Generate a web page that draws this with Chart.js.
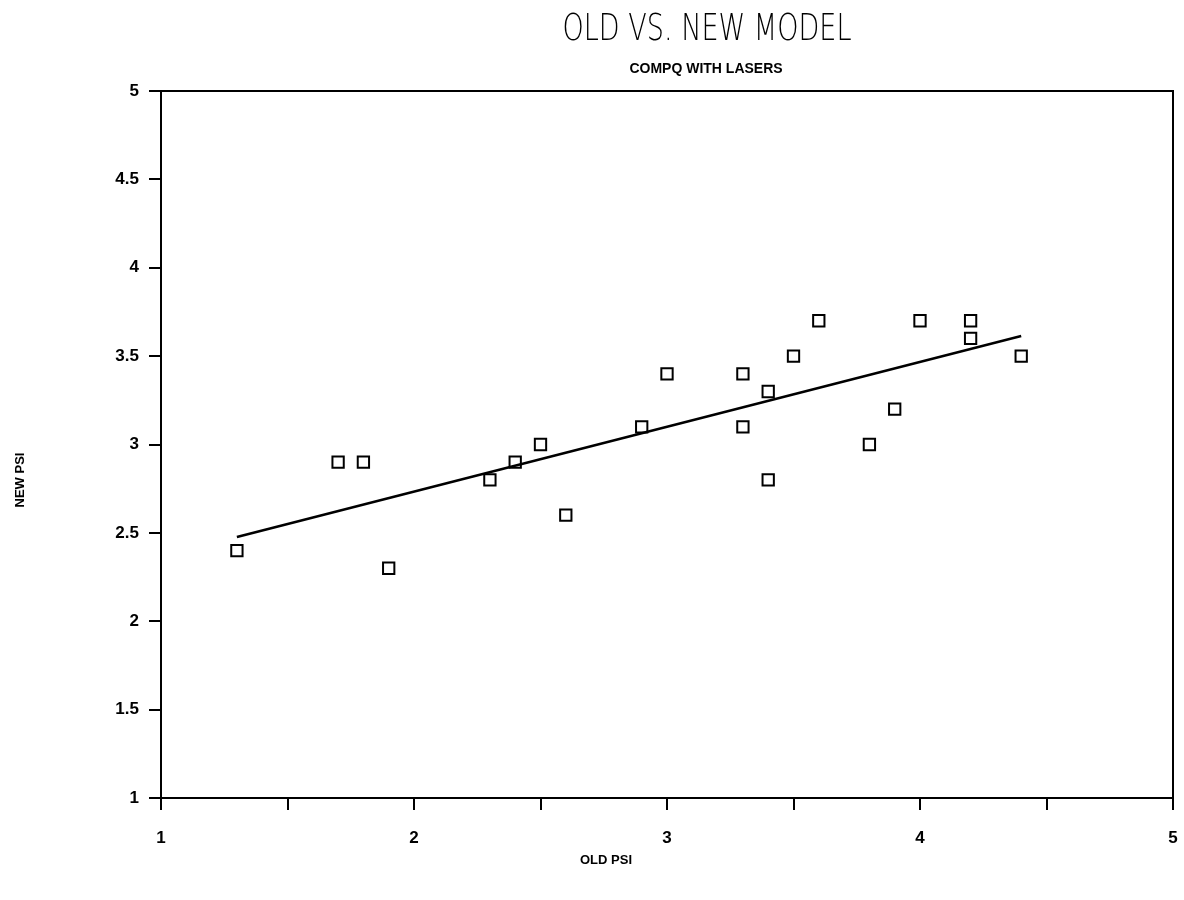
<!DOCTYPE html>
<html>
<head>
<meta charset="utf-8">
<title>Old vs. New Model</title>
<script src="https://cdn.jsdelivr.net/npm/chart.js@4"></script>
<style>
  html, body { margin: 0; padding: 0; background: #fff; }
  #wrap { width: 1184px; height: 900px; }
</style>
</head>
<body>
<div id="wrap"><canvas id="grafico" width="1184" height="900"></canvas></div>
<script>
// Lecturas de presion: modelo viejo (x) contra modelo nuevo (y)
const oldPsi = [1.3, 1.7, 1.8, 1.9, 2.3, 2.4, 2.5, 2.6, 2.9, 3.0, 3.3, 3.3, 3.4, 3.4, 3.5, 3.6, 3.8, 3.9, 4.0, 4.2, 4.2, 4.4];
const newPsi = [2.4, 2.9, 2.9, 2.3, 2.8, 2.9, 3.0, 2.6, 3.1, 3.4, 3.4, 3.1, 3.3, 2.8, 3.5, 3.7, 3.0, 3.2, 3.7, 3.7, 3.6, 3.5];

// Extremos de la recta de ajuste
const fitX = [1.3, 4.4];
const fitY = [2.477, 3.614];

const titulo = 'OLD VS. NEW MODEL';
const subtitulo = 'COMPQ WITH LASERS';
const tituloX = 'OLD PSI';
const tituloY = 'NEW PSI';

const puntos = oldPsi.map((x, i) => ({ x: x, y: newPsi[i] }));
const recta = fitX.map((x, i) => ({ x: x, y: fitY[i] }));

const fuenteTicks = { family: 'Liberation Sans', size: 17, weight: 'bold' };

// Marco, titulos y rotulos de ejes dibujados a mano
const marco = {
  id: 'marco',
  afterDraw(chart) {
    const { ctx, chartArea: a } = chart;
    ctx.save();
    ctx.strokeStyle = '#000';
    ctx.lineWidth = 2;
    ctx.strokeRect(a.left, a.top, a.right - a.left, a.bottom - a.top);

    ctx.fillStyle = '#000';
    ctx.textAlign = 'center';
    ctx.textBaseline = 'alphabetic';

    // titulo angosto y fino
    ctx.font = '200 38px "DejaVu Sans"';
    const w = ctx.measureText(titulo).width;
    ctx.save();
    ctx.translate(707, 40);
    ctx.scale(289 / w, 1);
    ctx.fillText(titulo, 0, 0);
    ctx.restore();

    ctx.font = 'bold 14px "Liberation Sans"';
    ctx.fillText(subtitulo, 706, 73);

    ctx.font = 'bold 13px "Liberation Sans"';
    ctx.fillText(tituloX, 606, 864);

    ctx.save();
    ctx.translate(24, 480);
    ctx.rotate(-Math.PI / 2);
    ctx.fillText(tituloY, 0, 0);
    ctx.restore();
    ctx.restore();
  }
};

new Chart(document.getElementById('grafico'), {
  type: 'scatter',
  data: {
    datasets: [
      {
        label: 'datos',
        data: puntos,
        pointStyle: 'rect',
        pointRadius: 8,
        pointBorderWidth: 2,
        pointBorderColor: '#000',
        pointBackgroundColor: 'rgba(0,0,0,0)'
      },
      {
        type: 'line',
        label: 'ajuste',
        data: recta,
        borderColor: '#000',
        borderWidth: 2.5,
        pointRadius: 0,
        fill: false
      }
    ]
  },
  options: {
    responsive: false,
    animation: false,
    layout: { padding: { left: 0, top: 91, right: 0, bottom: 0 } },
    plugins: {
      legend: { display: false },
      tooltip: { enabled: false }
    },
    scales: {
      x: {
        type: 'linear',
        min: 1,
        max: 5,
        afterFit: (s) => { s.height = 102; s.paddingRight = 11; },
        border: { display: true, color: '#000', width: 2 },
        grid: { drawOnChartArea: false, drawTicks: true, tickLength: 12, color: '#000', lineWidth: 2 },
        ticks: {
          stepSize: 0.5,
          padding: 18,
          color: '#000',
          font: fuenteTicks,
          maxRotation: 0,
          autoSkip: false,
          callback: (v) => Number.isInteger(v) ? String(v) : ''
        }
      },
      y: {
        type: 'linear',
        min: 1,
        max: 5,
        afterFit: (s) => { s.width = 161; },
        border: { display: true, color: '#000', width: 2 },
        grid: { drawOnChartArea: false, drawTicks: true, tickLength: 12, color: '#000', lineWidth: 2 },
        ticks: {
          stepSize: 0.5,
          padding: 10,
          color: '#000',
          font: fuenteTicks,
          autoSkip: false,
          callback: (v) => String(v)
        }
      }
    }
  },
  plugins: [marco]
});
</script>
</body>
</html>
